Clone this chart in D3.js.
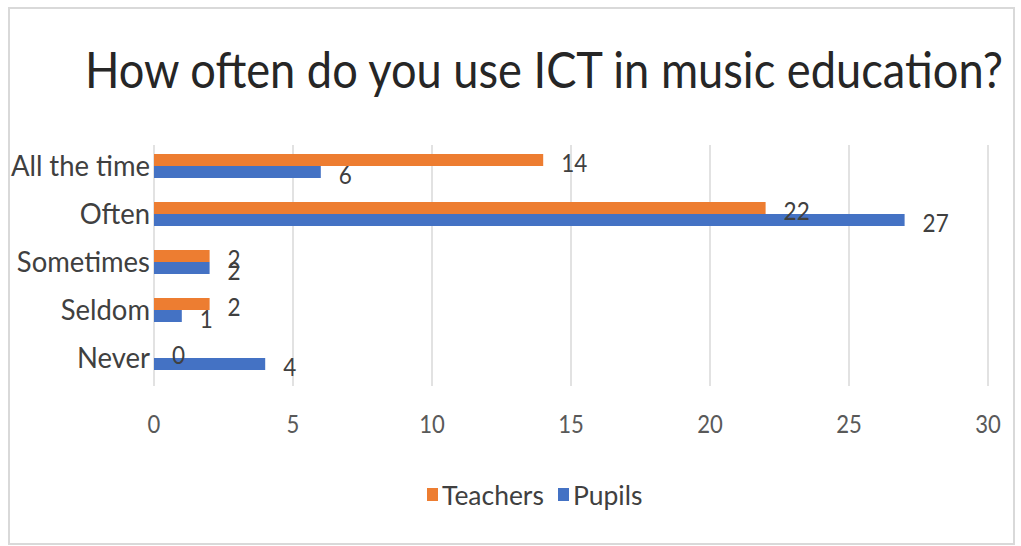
<!DOCTYPE html>
<html>
<head>
<meta charset="utf-8">
<script src="https://cdn.jsdelivr.net/npm/d3@7"></script>
<style>
  html, body { margin: 0; padding: 0; background: #fff; }
  svg { display: block; font-family: Lato, "Open Sans", sans-serif; }
</style>
</head>
<body>
<svg id="chart" width="1021" height="546"></svg>
<script>
// Survey answers per category
const categories = ["All the time", "Often", "Sometimes", "Seldom", "Never"];
const teachers = [14, 22, 2, 2, 0];
const pupils = [6, 27, 2, 1, 4];
const seriesNames = ["Teachers", "Pupils"];
const seriesColors = ["#ED7D31", "#4472C4"];
const xTicks = [0, 5, 10, 15, 20, 25, 30];
const titleText = "How often do you use ICT in music education?";

const svg = d3.select("#chart");
const squeeze = 0.85; // narrow letterforms for numbers

// outer frame
svg.append("rect")
  .attr("x", 9).attr("y", 8).attr("width", 1005).attr("height", 536)
  .attr("fill", "#fff").attr("stroke", "#d9d9d9").attr("stroke-width", 2);

// title, fitted horizontally to its available width
const title = svg.append("text")
  .attr("font-size", 50)
  .attr("fill", "#262626")
  .text(titleText);
const natural = title.node().getComputedTextLength();
title.attr("transform", `translate(85,88) scale(${918 / natural},1)`);

const x = d3.scaleLinear().domain([0, 30]).range([154, 988]);
const y = d3.scaleBand().domain(categories).range([142, 382]).paddingInner(0).paddingOuter(0);
const inner = d3.scaleBand().domain(seriesNames).range([12, 36]);

// vertical gridlines
svg.append("g").selectAll("line").data(xTicks).join("line")
  .attr("x1", d => x(d)).attr("x2", d => x(d))
  .attr("y1", 145).attr("y2", 386)
  .attr("stroke", "#d9d9d9").attr("stroke-width", 1.5);

// x tick labels
svg.append("g").selectAll("text").data(xTicks).join("text")
  .attr("transform", d => `translate(${x(d)},${433}) scale(${squeeze},1)`)
  .attr("text-anchor", "middle")
  .attr("font-size", 26)
  .attr("fill", "#595959")
  .text(d => d);

// category labels
svg.append("g").selectAll("text").data(categories).join("text")
  .attr("transform", d => `translate(${150},${y(d) + y.bandwidth() / 2 + 10}) scale(0.98,1)`)
  .attr("text-anchor", "end")
  .attr("font-size", 28)
  .attr("fill", "#404040")
  .text(d => d);

const rows = categories.map((c, i) => ({ cat: c, vals: [teachers[i], pupils[i]] }));

const groups = svg.append("g").selectAll("g").data(rows).join("g")
  .attr("transform", d => `translate(0,${y(d.cat)})`);

groups.selectAll("rect").data(d => d.vals.map((v, j) => ({ v, s: seriesNames[j], c: seriesColors[j] })))
  .join("rect")
  .attr("x", x(0))
  .attr("y", d => inner(d.s))
  .attr("width", d => x(d.v) - x(0))
  .attr("height", inner.bandwidth())
  .attr("fill", d => d.c);

// value labels
groups.selectAll("text").data(d => d.vals.map((v, j) => ({ v, s: seriesNames[j] })))
  .join("text")
  .attr("transform", d => `translate(${x(d.v) + 18},${inner(d.s) + inner.bandwidth() / 2 + 12}) scale(0.9,1)`)
  .attr("font-size", 25)
  .attr("fill", "#404040")
  .text(d => d.v);

// legend
const legend = svg.append("g");
const legendItems = [
  { name: seriesNames[0], color: seriesColors[0], x: 427 },
  { name: seriesNames[1], color: seriesColors[1], x: 558 }
];
legend.selectAll("rect").data(legendItems).join("rect")
  .attr("x", d => d.x).attr("y", 488).attr("width", 11).attr("height", 13)
  .attr("fill", d => d.color);
legend.selectAll("text").data(legendItems).join("text")
  .attr("transform", d => `translate(${d.x + 15},${505}) scale(0.98,1)`)
  .attr("font-size", 27)
  .attr("fill", "#404040")
  .text(d => d.name);
</script>
</body>
</html>
